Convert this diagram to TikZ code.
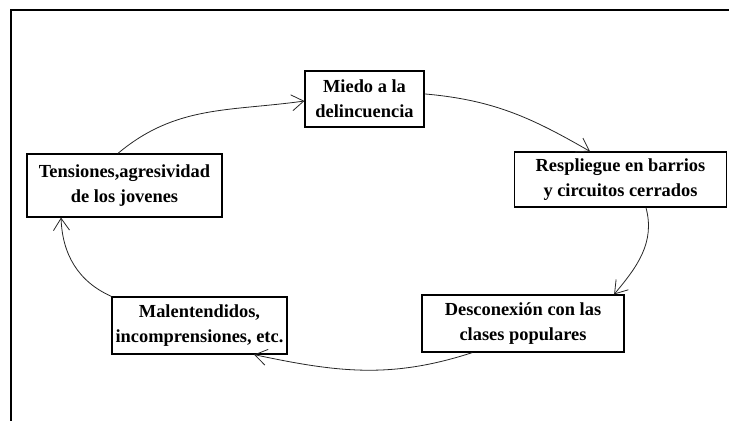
\documentclass[tikz,border=0pt]{standalone}
\usepackage{fontspec}
\setmainfont{Liberation Serif}
\usetikzlibrary{arrows.meta}
\definecolor{darkgray}{rgb}{0.15,0.15,0.15}

\tikzset{
  caja/.style={draw,line width=0.9pt,align=center,inner sep=0pt,
               font=\bfseries\fontsize{13.8}{19}\selectfont},
  flecha/.style={-{Straight Barb[length=9pt,width=12pt]},line width=0.6pt,darkgray}
}

\begin{document}
\begin{tikzpicture}[x=0.75pt,y=0.75pt]
\useasboundingbox (0,0) rectangle (729,421);

% marco
\draw [line width=1.2pt] (11,0) -- (11,411) -- (729,411);

% cajas
\node [caja,minimum width=89.25pt,minimum height=42pt] (miedo) at (364.5,322)
      {Miedo a la\\delincuencia};
\node [caja,minimum width=159pt,minimum height=41.25pt] (repliegue) at (620.5,241.5)
      {Respliegue en barrios\\y circuitos cerrados};
\node [caja,minimum width=151.5pt,minimum height=42.75pt] (desconexion) at (523,97.5)
      {Desconexión con las\\clases populares};
\node [caja,minimum width=131.25pt,minimum height=42.75pt] (malentendidos) at (199.5,95.5)
      {Malentendidos,\\incomprensiones, etc.};
\node [caja,minimum width=146.25pt,minimum height=47.25pt] (tensiones) at (124.5,235.5)
      {Tensiones,agresividad\\de los jovenes};

% el circulo
\draw [flecha] ([xshift=-4.9pt]tensiones.north) to [out=40,in=188]
      ([yshift=-1.5pt]miedo.west);
\draw [flecha] ([yshift=3.8pt]miedo.east) to [out=-5,in=150]
      ([xshift=-22.9pt]repliegue.north);
\draw [flecha] ([xshift=19.1pt]repliegue.south) to [out=-75,in=50]
      ([xshift=68.3pt]desconexion.north);
\draw [flecha] ([xshift=-38pt]desconexion.south) to [out=198,in=-12]
      ([xshift=40.9pt]malentendidos.south);
\draw [flecha] (malentendidos.north west) to [out=156,in=-88]
      ([xshift=-47.6pt]tensiones.south);

\end{tikzpicture}
\end{document}
